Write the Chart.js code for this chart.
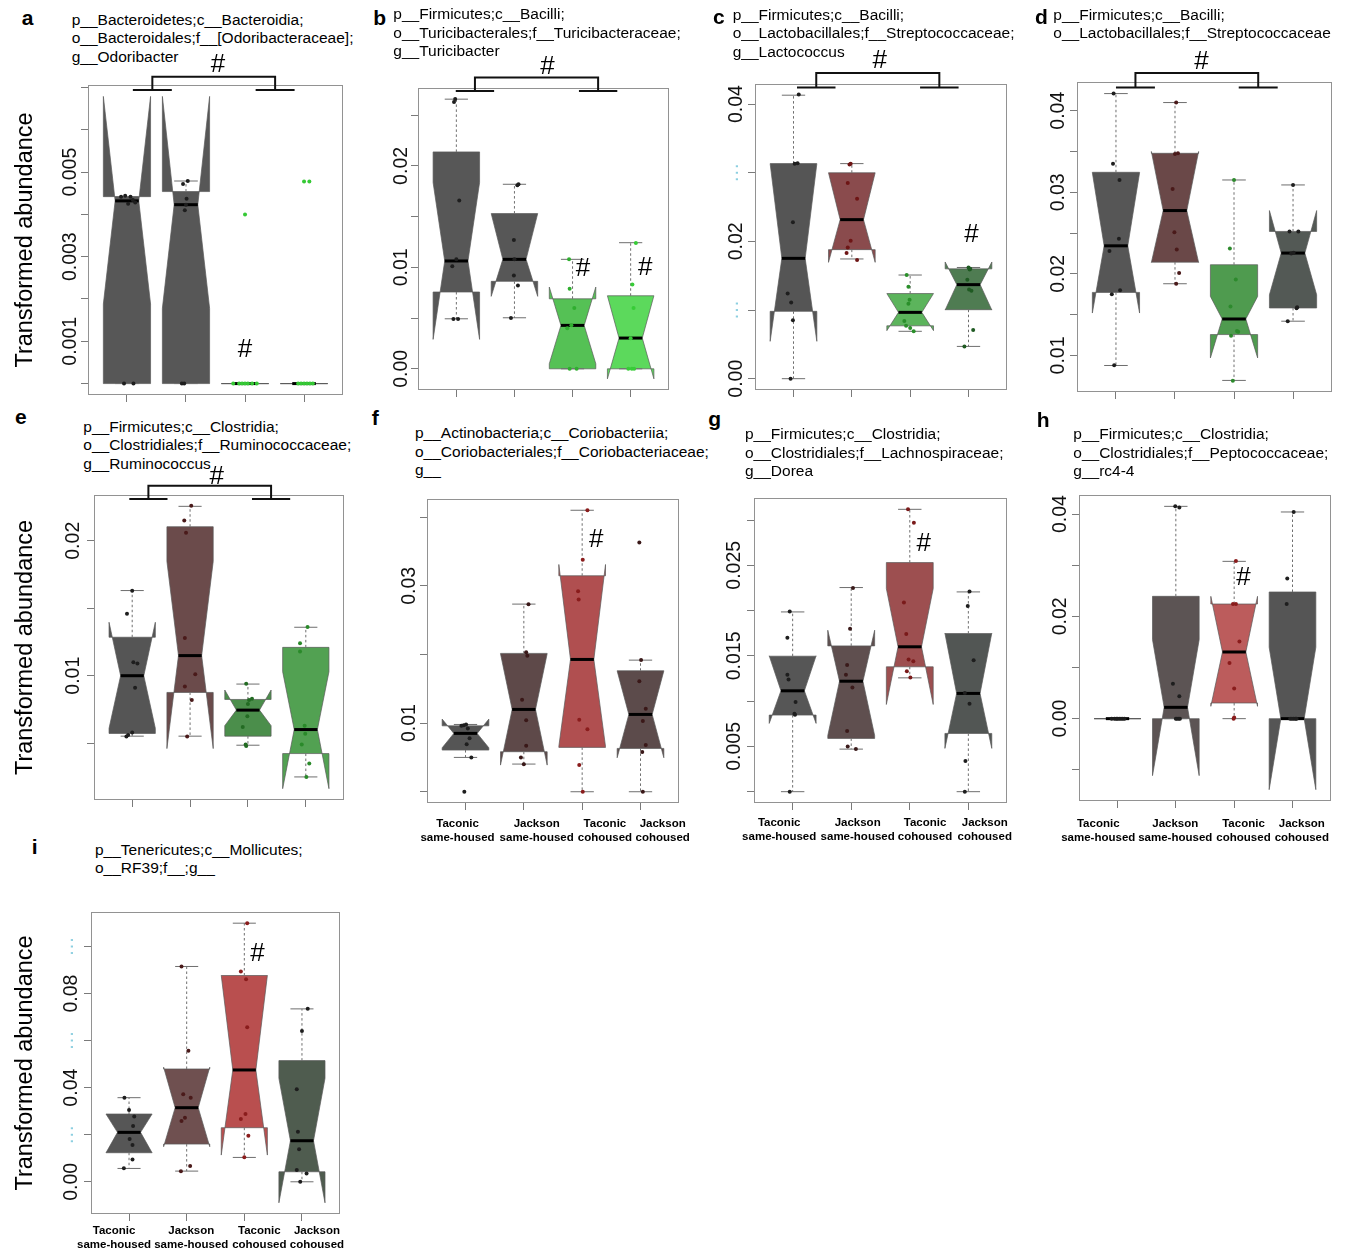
<!DOCTYPE html>
<html>
<head>
<meta charset="utf-8">
<title>Notched boxplots of transformed abundance</title>
<script src="https://cdn.jsdelivr.net/npm/chart.js@4.4.1/dist/chart.umd.min.js"></script>
<style>
  html, body { margin: 0; padding: 0; background: #fff; }
  body { position: relative; width: 1354px; height: 1251px; overflow: hidden;
         font-family: "Liberation Sans", Arial, Helvetica, sans-serif; color: #000; }
  canvas { position: absolute; }
  .tag { position: absolute; font-size: 21px; font-weight: bold; line-height: 21px; }
  .taxon { position: absolute; font-size: 15.5px; line-height: 18.6px; white-space: nowrap; }
</style>
</head>
<body>
<script>
const FONT = '"Liberation Sans", Arial, Helvetica, sans-serif';

const GROUPS = ['Taconic same-housed', 'Jackson same-housed', 'Taconic cohoused', 'Jackson cohoused'];
const GROUP_POS = [1, 2, 3, 4];
const GROUP_LABELS = [['Taconic', 'same-housed'], ['Jackson', 'same-housed'], ['Taconic', 'cohoused'], ['Jackson', 'cohoused']];

// Box statistics per group: [lower whisker, Q1, median, Q3, upper whisker, notch low, notch high]
// Points per group: [horizontal jitter in group units, value]

// ---- a: Odoribacter
const A_TAXON = ['p__Bacteroidetes;c__Bacteroidia;', 'o__Bacteroidales;f__[Odoribacteraceae];', 'g__Odoribacter'];
const A_RANGE = [-0.00027, 0.00706];
const A_TICKS = [0, 0.001, 0.002, 0.003, 0.004, 0.005, 0.006, 0.007];
const A_TICK_LABELS = ['', '0.001', '', '0.003', '', '0.005', '', ''];
const A_STATS = [
  [0, 0, 0.00432, 0.00442, 0.00442, 0.00188, 0.00679],
  [0, 0, 0.00423, 0.00454, 0.00479, 0.00178, 0.00679],
  [0, 0, 0, 0, 0, 0, 0],
  [0, 0, 0, 0, 0, 0, 0]
];
const A_POINTS = [
  [[-0.10, 0.00442], [-0.03, 0.00444], [0.06, 0.00442], [0.10, 0.00434], [0.14, 0.00428], [0.02, 0.00425], [-0.05, 0], [0.11, 0]],
  [[0.03, 0.00479], [-0.05, 0.00472], [0.01, 0.00437], [-0.02, 0.0041], [0.0, 0.00423], [-0.07, 0], [-0.03, 0]],
  [[-0.2, 0], [-0.1, 0], [-0.05, 0], [0.0, 0], [0.05, 0], [0.12, 0], [0.2, 0], [0.0, 0.004]],
  [[-0.1, 0], [-0.05, 0], [0.0, 0], [0.05, 0], [0.1, 0], [0.15, 0], [0.0, 0.00478], [0.09, 0.00478]]
];
const A_HASH = [[3, 0.00079]];
const A_PAIR = [1.43, 3.51];

// ---- b: Turicibacter
const B_TAXON = ['p__Firmicutes;c__Bacilli;', 'o__Turicibacterales;f__Turicibacteraceae;', 'g__Turicibacter'];
const B_RANGE = [-0.00209, 0.02768];
const B_TICKS = [0, 0.005, 0.01, 0.015, 0.02, 0.025];
const B_TICK_LABELS = ['0.00', '', '0.01', '', '0.02', ''];
const B_STATS = [
  [0.00493, 0.00757, 0.01063, 0.02138, 0.02658, 0.0029, 0.01836],
  [0.00503, 0.00862, 0.01079, 0.0153, 0.01819, 0.00714, 0.0153],
  [0, 0, 0.00428, 0.0069, 0.01079, 0.0005, 0.00806],
  [0, 0, 0.00303, 0.0072, 0.01243, -0.00099, 0.0072]
];
const B_POINTS = [
  [[-0.02, 0.0266], [-0.04, 0.0263], [0.05, 0.0166], [0.0, 0.0108], [-0.07, 0.0101], [-0.05, 0.0049], [0.03, 0.0049]],
  [[0.07, 0.0182], [0.05, 0.0181], [-0.01, 0.0127], [0.0, 0.0108], [-0.01, 0.0092], [0.06, 0.0082], [-0.06, 0.005]],
  [[-0.06, 0.0108], [-0.05, 0.0079], [0.03, 0.006], [-0.09, 0.004], [-0.02, 0.0043], [-0.05, 0], [0.07, 0]],
  [[0.09, 0.0124], [0.03, 0.0083], [0.05, 0.006], [0.0, 0.003], [-0.04, 0], [0.02, 0], [0.06, 0]]
];
const B_HASH = [[3.18, 0.0099], [4.25, 0.0100]];
const B_PAIR = [1.32, 3.44];

// ---- c: Lactococcus
const C_TAXON = ['p__Firmicutes;c__Bacilli;', 'o__Lactobacillales;f__Streptococcaceae;', 'g__Lactococcus'];
const C_RANGE = [-0.00165, 0.04293];
const C_TICKS = [0, 0.01, 0.02, 0.03, 0.04];
const C_TICK_LABELS = ['0.00', '\u00b7\u00b7\u00b7', '0.02', '\u00b7\u00b7\u00b7', '0.04'];
const C_STATS = [
  [0, 0.00981, 0.01753, 0.03133, 0.0413, 0.00544, 0.0313],
  [0.01744, 0.0188, 0.02317, 0.0300, 0.03133, 0.01695, 0.0300],
  [0.0069, 0.0077, 0.00966, 0.0124, 0.0151, 0.0070, 0.0124],
  [0.0047, 0.01005, 0.0137, 0.0160, 0.0162, 0.0100, 0.0170]
];
const C_POINTS = [
  [[0.09, 0.0414], [0.02, 0.0313], [0.07, 0.0314], [-0.01, 0.0228], [-0.10, 0.0124], [-0.04, 0.0111], [-0.01, 0.0085], [-0.05, 0]],
  [[-0.02, 0.0313], [-0.04, 0.0312], [-0.07, 0.0285], [0.09, 0.0262], [-0.02, 0.0201], [-0.07, 0.0191], [-0.09, 0.0183], [0.09, 0.0173]],
  [[-0.06, 0.0151], [-0.03, 0.0134], [-0.01, 0.0115], [-0.03, 0.0109], [-0.10, 0.0084], [-0.07, 0.0077], [0.0, 0.0074], [0.06, 0.0069]],
  [[0.0, 0.0162], [0.02, 0.0159], [0.03, 0.0160], [-0.02, 0.0144], [0.05, 0.0128], [0.01, 0.0130], [0.08, 0.0071], [-0.07, 0.0047]]
];
const C_HASH = [[4.05, 0.021]];
const C_PAIR = [1.39, 3.5];

// ---- d: Streptococcaceae
const D_TAXON = ['p__Firmicutes;c__Bacilli;', 'o__Lactobacillales;f__Streptococcaceae'];
const D_RANGE = [0.00552, 0.04352];
const D_TICKS = [0.01, 0.015, 0.02, 0.025, 0.03, 0.035, 0.04];
const D_TICK_LABELS = ['0.01', '', '0.02', '', '0.03', '', '0.04'];
const D_STATS = [
  [0.00877, 0.01773, 0.02344, 0.03245, 0.0421, 0.0152, 0.0324],
  [0.01879, 0.02144, 0.02776, 0.03478, 0.0410, 0.0214, 0.0350],
  [0.00694, 0.01256, 0.01447, 0.02112, 0.03151, 0.0097, 0.01724],
  [0.0142, 0.01582, 0.02255, 0.0252, 0.0309, 0.01744, 0.02776]
];
const D_POINTS = [
  [[-0.04, 0.0421], [-0.05, 0.0335], [0.06, 0.0315], [0.05, 0.0243], [-0.11, 0.0228], [-0.07, 0.0175], [0.07, 0.0180], [-0.03, 0.0088]],
  [[0.02, 0.0410], [0.05, 0.0348], [0.0, 0.0347], [-0.04, 0.0304], [-0.01, 0.0251], [0.03, 0.0230], [0.07, 0.0201], [0.02, 0.0188]],
  [[0.0, 0.0315], [-0.07, 0.0231], [0.03, 0.0193], [-0.06, 0.0160], [0.05, 0.0130], [0.07, 0.0129], [-0.05, 0.0124], [-0.02, 0.0069]],
  [[0.0, 0.0309], [-0.06, 0.0252], [0.09, 0.0252], [-0.03, 0.0225], [0.01, 0.0226], [0.06, 0.0158], [0.07, 0.0159], [-0.09, 0.0142]]
];
const D_HASH = [];
const D_PAIR = [1.33, 3.41];

// ---- e: Ruminococcus
const E_TAXON = ['p__Firmicutes;c__Clostridia;', 'o__Clostridiales;f__Ruminococcaceae;', 'g__Ruminococcus'];
const E_RANGE = [0.00079, 0.02339];
const E_TICKS = [0.005, 0.01, 0.015, 0.02];
const E_TICK_LABELS = ['', '0.01', '', '0.02'];
const E_STATS = [
  [0.00552, 0.00572, 0.0100, 0.01285, 0.01631, 0.0061, 0.01396],
  [0.00552, 0.00876, 0.01149, 0.02104, 0.02255, 0.0046, 0.01847],
  [0.00485, 0.00552, 0.00745, 0.00824, 0.00938, 0.0063, 0.00894],
  [0.0025, 0.00423, 0.00601, 0.0121, 0.01359, 0.00163, 0.0103]
];
const E_POINTS = [
  [[0.0, 0.0163], [-0.09, 0.0146], [0.02, 0.0110], [0.09, 0.0109], [0.05, 0.0091], [0.0, 0.0058], [-0.10, 0.0055], [-0.07, 0.0056]],
  [[0.02, 0.0226], [-0.10, 0.0215], [-0.07, 0.0206], [-0.09, 0.0128], [0.09, 0.0101], [-0.09, 0.0092], [0.03, 0.0082], [-0.05, 0.0055]],
  [[-0.03, 0.0094], [0.07, 0.0083], [0.02, 0.0082], [0.0, 0.0079], [-0.01, 0.0070], [-0.09, 0.0062], [-0.04, 0.0049], [-0.03, 0.0048]],
  [[0.03, 0.0136], [-0.10, 0.0124], [-0.10, 0.0118], [-0.02, 0.0063], [-0.01, 0.0057], [-0.07, 0.0049], [0.06, 0.0035], [0.01, 0.0025]]
];
const E_HASH = [];
const E_PAIR = [1.28, 3.4];

// ---- f: Coriobacteriaceae
const F_TAXON = ['p__Actinobacteria;c__Coriobacteriia;', 'o__Coriobacteriales;f__Coriobacteriaceae;', 'g__'];
const F_RANGE = [-0.00164, 0.04264];
const F_TICKS = [0, 0.01, 0.02, 0.03, 0.04];
const F_TICK_LABELS = ['', '0.01', '', '0.03', ''];
const F_STATS = [
  [0.0050, 0.00607, 0.0085, 0.0096, 0.0098, 0.0064, 0.01058],
  [0.00403, 0.00583, 0.01199, 0.02015, 0.02733, 0.00388, 0.0201],
  [0, 0.00646, 0.01927, 0.03146, 0.0410, 0.0066, 0.0331],
  [0, 0.00631, 0.01126, 0.01762, 0.01917, 0.00495, 0.0176]
];
const F_POINTS = [
  [[-0.03, 0.0097], [0.01, 0.0098], [-0.07, 0.0096], [0.04, 0.0092], [0.07, 0.0078], [0.02, 0.0069], [0.10, 0.0050], [-0.02, 0]],
  [[0.08, 0.0273], [0.04, 0.0203], [0.06, 0.0198], [-0.03, 0.0134], [0.04, 0.0104], [0.04, 0.0067], [-0.05, 0.0050], [0.0, 0.0040]],
  [[0.09, 0.0410], [0.01, 0.0338], [-0.07, 0.0292], [-0.06, 0.0280], [-0.05, 0.0105], [0.09, 0.0091], [-0.05, 0.0039], [0.01, 0]],
  [[-0.02, 0.0363], [0.01, 0.0192], [-0.02, 0.0161], [0.09, 0.0121], [0.04, 0.0103], [0.09, 0.0068], [0.03, 0.0058], [0.04, 0]]
];
const F_HASH = [[3.24, 0.0367]];

// ---- g: Dorea
const G_TAXON = ['p__Firmicutes;c__Clostridia;', 'o__Clostridiales;f__Lachnospiraceae;', 'g__Dorea'];
const G_RANGE = [-0.00125, 0.03243];
const G_TICKS = [0, 0.005, 0.01, 0.015, 0.02, 0.025, 0.03];
const G_TICK_LABELS = ['', '0.005', '', '0.015', '', '0.025', ''];
const G_STATS = [
  [0, 0.00846, 0.01114, 0.01496, 0.01985, 0.00754, 0.0150],
  [0.0047, 0.00588, 0.0122, 0.0161, 0.02254, 0.0062, 0.01783],
  [0.01257, 0.01379, 0.0160, 0.0253, 0.03118, 0.00963, 0.02243],
  [0, 0.00643, 0.01085, 0.01746, 0.02206, 0.00478, 0.0175]
];
const G_POINTS = [
  [[-0.05, 0.0199], [-0.09, 0.0170], [-0.09, 0.0129], [-0.07, 0.0124], [0.05, 0.0099], [0.04, 0.0085], [0.03, 0.0086], [-0.05, 0]],
  [[0.03, 0.0225], [-0.02, 0.0180], [-0.07, 0.0140], [-0.09, 0.0129], [0.02, 0.0115], [-0.07, 0.0067], [-0.06, 0.0050], [0.08, 0.0047]],
  [[-0.03, 0.0312], [0.07, 0.0297], [-0.10, 0.0209], [-0.06, 0.0174], [-0.02, 0.0146], [0.06, 0.0144], [-0.05, 0.0133], [0.01, 0.0126]],
  [[0.02, 0.0221], [-0.01, 0.0205], [0.09, 0.0145], [-0.06, 0.0109], [0.02, 0.0097], [-0.05, 0.0034], [-0.06, 0]]
];
const G_HASH = [[3.24, 0.0274]];

// ---- h: rc4-4
const H_TAXON = ['p__Firmicutes;c__Clostridia;', 'o__Clostridiales;f__Peptococcaceae;', 'g__rc4-4'];
const H_RANGE = [-0.0161, 0.04372];
const H_TICKS = [-0.01, 0, 0.01, 0.02, 0.03, 0.04];
const H_TICK_LABELS = ['', '0.00', '', '0.02', '', '0.04'];
const H_STATS = [
  [0, 0, 0, 0, 0, 0, 0],
  [0, 0, 0.00221, 0.02391, 0.0415, -0.01114, 0.01544],
  [0, 0.00306, 0.01303, 0.02241, 0.03075, 0.00241, 0.02391],
  [0, 0, 0, 0.02476, 0.0404, -0.01388, 0.01394]
];
const H_POINTS = [
  [[-0.10, 0], [-0.05, 0], [-0.02, 0], [0.0, 0], [0.03, 0], [0.06, 0], [0.09, 0], [0.12, 0]],
  [[-0.01, 0.0415], [0.06, 0.0413], [-0.05, 0.0068], [0.06, 0.0044], [0.05, 0], [0.02, 0], [0.0, 0], [0.07, 0]],
  [[0.03, 0.0308], [-0.02, 0.0224], [0.03, 0.0224], [0.09, 0.0151], [-0.08, 0.0109], [0.0, 0.0059], [-0.01, 0], [0.0, 0.0002]],
  [[0.02, 0.0404], [-0.09, 0.0274], [-0.10, 0.0224], [-0.04, 0], [0.02, 0], [0.05, 0], [-0.01, 0], [0.07, 0]]
];
const H_HASH = [[3.16, 0.0275]];

// ---- i: RF39
const I_TAXON = ['p__Tenericutes;c__Mollicutes;', 'o__RF39;f__;g__'];
const I_RANGE = [-0.01369, 0.11465];
const I_TICKS = [0, 0.02, 0.04, 0.06, 0.08, 0.1];
const I_TICK_LABELS = ['0.00', '\u00b7\u00b7\u00b7', '0.04', '\u00b7\u00b7\u00b7', '0.08', '\u00b7\u00b7\u00b7'];
const I_STATS = [
  [0.00567, 0.01234, 0.0210, 0.0288, 0.03574, 0.0123, 0.0288],
  [0.00454, 0.01603, 0.03149, 0.04794, 0.0915, 0.0149, 0.0487],
  [0.01035, 0.02298, 0.04752, 0.08766, 0.1099, 0.01135, 0.0877],
  [0, 0.00426, 0.01745, 0.05149, 0.07348, -0.00894, 0.04397]
];
const I_POINTS = [
  [[-0.08, 0.0357], [0.0, 0.0305], [0.09, 0.0277], [0.07, 0.0237], [0.01, 0.0182], [0.06, 0.0156], [0.06, 0.0095], [-0.09, 0.0057]],
  [[-0.09, 0.0915], [0.03, 0.0557], [-0.06, 0.0372], [0.07, 0.0357], [-0.03, 0.0272], [-0.09, 0.0258], [0.06, 0.0067], [-0.10, 0.0045]],
  [[0.05, 0.1099], [-0.06, 0.0894], [0.03, 0.0861], [0.05, 0.0657], [0.02, 0.0288], [-0.06, 0.0267], [0.07, 0.0196], [0.0, 0.0104]],
  [[0.10, 0.0735], [0.0, 0.0641], [-0.09, 0.0393], [-0.07, 0.0213], [-0.05, 0.0138], [-0.09, 0.0050], [0.08, 0.0035], [-0.03, 0]]
];
const I_HASH = [[3.23, 0.0969]];

// ---- panel placement and styling
const PANELS = [
  { tag: 'a', taxon: A_TAXON, range: A_RANGE, ticks: A_TICKS, tickLabels: A_TICK_LABELS, stats: A_STATS, points: A_POINTS, hash: A_HASH, pair: A_PAIR,
    frame: [88, 85, 343, 395], axw: 88, yTitle: true, gap: 17, taxonAt: [71.7, 20], tagAt: [21.7, 24.5],
    bracket: [-8.3, 5], hashTop: [2.54, -20],
    fill: ['#575757', '#575757', '#4aa84a', '#4aa84a'], dots: ['#1e1e1e', '#1e1e1e', '#35c935', '#35c935'] },
  { tag: 'b', taxon: B_TAXON, range: B_RANGE, ticks: B_TICKS, tickLabels: B_TICK_LABELS, stats: B_STATS, points: B_POINTS, hash: B_HASH, pair: B_PAIR,
    frame: [418, 88, 669, 390], axw: 46, gap: 16.7, taxonAt: [393.3, 14.5], tagAt: [373.3, 25],
    bracket: [-10.5, 2.9], hashTop: [2.57, -21],
    fill: ['#575757', '#575757', '#55c155', '#5cd95c'], dots: ['#1e1e1e', '#1e1e1e', '#2fae2f', '#37cc37'] },
  { tag: 'c', taxon: C_TAXON, range: C_RANGE, ticks: C_TICKS, tickLabels: C_TICK_LABELS, stats: C_STATS, points: C_POINTS, hash: C_HASH, pair: C_PAIR,
    frame: [755, 84, 1007, 390], axw: 46, gap: 18, taxonAt: [732.7, 15], tagAt: [713, 24],
    bracket: [-11, 3.6], hashTop: [2.48, -22.7],
    fill: ['#555555', '#8a4b4d', '#5cb45c', '#4f7c52'], dots: ['#1e1e1e', '#6e1515', '#2a8f2a', '#1f5a22'] },
  { tag: 'd', taxon: D_TAXON, range: D_RANGE, ticks: D_TICKS, tickLabels: D_TICK_LABELS, stats: D_STATS, points: D_POINTS, hash: D_HASH, pair: D_PAIR,
    frame: [1077, 82, 1332, 392], axw: 46, gap: 18.3, taxonAt: [1053.3, 15], tagAt: [1035, 23.3],
    bracket: [-9.1, 5.5], hashTop: [2.45, -20],
    fill: ['#565656', '#6a4848', '#4f9b4f', '#535955'], dots: ['#1e1e1e', '#4a1a1a', '#2d8a2d', '#1e1e1e'] },
  { tag: 'e', taxon: E_TAXON, range: E_RANGE, ticks: E_TICKS, tickLabels: E_TICK_LABELS, stats: E_STATS, points: E_POINTS, hash: E_HASH, pair: E_PAIR,
    frame: [94, 495, 344, 800], axw: 94, yTitle: true, gap: 20.5, taxonAt: [83.3, 426.7], tagAt: [15, 423.3],
    bracket: [-9.3, 4], hashTop: [2.46, -18.6],
    fill: ['#555555', '#6b4b4b', '#4b8e4b', '#52a152'], dots: ['#1e1e1e', '#4a1a1a', '#236b23', '#2a8a2a'] },
  { tag: 'f', taxon: F_TAXON, range: F_RANGE, ticks: F_TICKS, tickLabels: F_TICK_LABELS, stats: F_STATS, points: F_POINTS, hash: F_HASH,
    frame: [427, 499, 679, 803], axw: 46, gap: 17.5, taxonAt: [415, 433.3], tagAt: [371.7, 424.3],
    labelAt: [0.863, 2.22, 3.39, 4.38], labelPad: 7.4,
    fill: ['#555555', '#5e4949', '#b04f50', '#5c4b4b'], dots: ['#1e1e1e', '#3a1818', '#8a1c1c', '#3a1818'] },
  { tag: 'g', taxon: G_TAXON, range: G_RANGE, ticks: G_TICKS, tickLabels: G_TICK_LABELS, stats: G_STATS, points: G_POINTS, hash: G_HASH,
    frame: [754, 498, 1007, 803], axw: 46, gap: 19, taxonAt: [745, 434.3], tagAt: [708.3, 426],
    labelAt: [0.77, 2.11, 3.26, 4.28], labelPad: 5.8,
    fill: ['#565656', '#5f4f4f', '#9d4f50', '#525654'], dots: ['#1e1e1e', '#3a1a1a', '#7a1a1a', '#1e1e1e'] },
  { tag: 'h', taxon: H_TAXON, range: H_RANGE, ticks: H_TICKS, tickLabels: H_TICK_LABELS, stats: H_STATS, points: H_POINTS, hash: H_HASH,
    frame: [1079, 495, 1331, 801], axw: 46, gap: 18.8, taxonAt: [1073.3, 434.3], tagAt: [1036.7, 426.7],
    labelAt: [0.67, 1.99, 3.16, 4.16], labelPad: 9.1,
    fill: ['#555555', '#5c5454', '#bc5c5c', '#555555'], dots: ['#1e1e1e', '#1e1e1e', '#8a1c1c', '#1e1e1e'] },
  { tag: 'i', taxon: I_TAXON, range: I_RANGE, ticks: I_TICKS, tickLabels: I_TICK_LABELS, stats: I_STATS, points: I_POINTS, hash: I_HASH,
    frame: [91, 912, 340, 1214], axw: 91, yTitle: true, gap: 19.3, taxonAt: [95, 850], tagAt: [31.7, 853.3],
    labelAt: [0.74, 2.08, 3.26, 4.26], labelPad: 2.8,
    fill: ['#565656', '#6f5050', '#b94f4f', '#4f5c4f'], dots: ['#1e1e1e', '#4a1a1a', '#8a1c1c', '#1e1e1e'] }
];

const X_RANGE = [0.34, 4.66];
const DOTS_LABEL = '\u00b7\u00b7\u00b7';
const TICK_SIZE = 19.5;
const TITLE_SIZE = 23.5;

Chart.defaults.font.family = FONT;

const measureCtx = document.createElement('canvas').getContext('2d');
function textWidth(txt, font) { measureCtx.font = font; return measureCtx.measureText(txt).width; }

// Notched boxes (R style), whiskers, staples, medians, frame, '#' markers and brackets
function notchedBoxPlugin(p) {
  return {
    id: 'notched-' + p.tag,
    beforeDatasetsDraw(chart) {
      const { ctx, chartArea: ca } = chart;
      const xs = chart.scales.x, ys = chart.scales.y;
      ctx.save();
      p.stats.forEach((s, g) => {
        const cx = xs.getPixelForValue(GROUP_POS[g]);
        const hw = xs.getPixelForValue(GROUP_POS[g] + 0.4) - cx;
        const sw = hw / 2;
        const [lo, q1, md, q3, hi, nl, nh] = s.map(v => ys.getPixelForValue(v));
        ctx.beginPath();
        ctx.moveTo(cx - hw, q1);
        ctx.lineTo(cx + hw, q1);
        ctx.lineTo(cx + hw, nl);
        ctx.lineTo(cx + hw / 2, md);
        ctx.lineTo(cx + hw, nh);
        ctx.lineTo(cx + hw, q3);
        ctx.lineTo(cx - hw, q3);
        ctx.lineTo(cx - hw, nh);
        ctx.lineTo(cx - hw / 2, md);
        ctx.lineTo(cx - hw, nl);
        ctx.closePath();
        ctx.fillStyle = p.fill[g];
        ctx.fill();
        ctx.lineWidth = 1;
        ctx.strokeStyle = 'rgba(90,90,90,0.7)';
        ctx.stroke();
        // whiskers (dashed) and staples
        ctx.strokeStyle = '#6e6e6e';
        ctx.setLineDash([2.5, 2.5]);
        ctx.beginPath();
        ctx.moveTo(cx, q1); ctx.lineTo(cx, lo);
        ctx.moveTo(cx, q3); ctx.lineTo(cx, hi);
        ctx.stroke();
        ctx.setLineDash([]);
        ctx.beginPath();
        ctx.moveTo(cx - sw, lo); ctx.lineTo(cx + sw, lo);
        ctx.moveTo(cx - sw, hi); ctx.lineTo(cx + sw, hi);
        ctx.stroke();
        // median
        ctx.strokeStyle = '#000';
        ctx.lineWidth = 3;
        ctx.beginPath();
        ctx.moveTo(cx - hw / 2, md); ctx.lineTo(cx + hw / 2, md);
        ctx.stroke();
      });
      ctx.strokeStyle = '#929292';
      ctx.lineWidth = 1;
      ctx.strokeRect(ca.left + 0.5, ca.top + 0.5, ca.width - 1, ca.height - 1);
      ctx.restore();
    },
    afterDatasetsDraw(chart) {
      const { ctx, chartArea: ca } = chart;
      const xs = chart.scales.x, ys = chart.scales.y;
      ctx.save();
      ctx.fillStyle = '#000';
      ctx.font = '26px ' + FONT;
      ctx.textAlign = 'center';
      ctx.textBaseline = 'middle';
      p.hash.forEach(([gx, v]) => ctx.fillText('#', xs.getPixelForValue(gx), ys.getPixelForValue(v)));
      if (p.pair) {
        const [ga, gb] = p.pair;
        const X = v => xs.getPixelForValue(v);
        const yTop = ca.top + p.bracket[0], yBar = ca.top + p.bracket[1];
        ctx.strokeStyle = '#111';
        ctx.lineWidth = 2;
        ctx.beginPath();
        ctx.moveTo(X(ga - 0.33), yBar); ctx.lineTo(X(ga + 0.33), yBar);
        ctx.moveTo(X(gb - 0.33), yBar); ctx.lineTo(X(gb + 0.33), yBar);
        ctx.moveTo(X(ga), yBar); ctx.lineTo(X(ga), yTop); ctx.lineTo(X(gb), yTop); ctx.lineTo(X(gb), yBar);
        ctx.stroke();
        ctx.fillText('#', X(p.hashTop[0]), ca.top + p.hashTop[1]);
      }
      ctx.restore();
    }
  };
}

PANELS.forEach(p => {
  const [l, t, r, b] = p.frame;
  const TOP = 40, RIGHT = 34, XTICK = 7;
  const labH = p.labelAt ? 46 : 0;
  const W = p.axw + (r - l) + RIGHT;
  const H = TOP + (b - t) + XTICK + labH;

  // panel letter and taxonomy caption
  const tag = document.createElement('div');
  tag.className = 'tag';
  tag.textContent = p.tag;
  tag.style.left = p.tagAt[0] + 'px';
  tag.style.top = (p.tagAt[1] - 17.8) + 'px';
  document.body.appendChild(tag);
  const cap = document.createElement('div');
  cap.className = 'taxon';
  cap.innerHTML = p.taxon.map(s => s.replace(/&/g, '&amp;').replace(/</g, '&lt;')).join('<br>');
  cap.style.left = p.taxonAt[0] + 'px';
  cap.style.top = (p.taxonAt[1] - 9.2) + 'px';
  document.body.appendChild(cap);

  const cv = document.createElement('canvas');
  cv.width = W; cv.height = H;
  cv.style.width = W + 'px'; cv.style.height = H + 'px';
  cv.style.left = (l - p.axw) + 'px';
  cv.style.top = (t - TOP) + 'px';
  document.body.appendChild(cv);

  const tickFont = { family: FONT, size: TICK_SIZE };
  const widest = Math.max(...p.tickLabels.map(s => textWidth(s, TICK_SIZE + 'px ' + FONT)));
  const yPad = (p.gap - XTICK) - widest / 2;

  const pts = [], cols = [];
  p.points.forEach((grp, g) => grp.forEach(([dx, v]) => {
    pts.push({ x: GROUP_POS[g] + dx, y: v });
    cols.push(p.dots[g]);
  }));

  const scales = {
    x: {
      type: 'linear', position: 'bottom', weight: 0, bounds: 'data',
      min: X_RANGE[0], max: X_RANGE[1],
      afterBuildTicks: s => { s.ticks = GROUP_POS.map(v => ({ value: v })); },
      afterFit: s => { s.height = XTICK; s.paddingLeft = 0; s.paddingRight = 0; },
      grid: { drawOnChartArea: false, drawTicks: true, tickLength: XTICK, color: '#7a7a7a', lineWidth: 1 },
      border: { display: false },
      ticks: { display: false }
    },
    y: {
      type: 'linear', position: 'left', bounds: 'data',
      min: p.range[0], max: p.range[1],
      afterBuildTicks: s => { s.ticks = p.ticks.map(v => ({ value: v })); },
      afterFit: s => { s.width = p.axw; s.paddingTop = 0; s.paddingBottom = 0; },
      grid: { drawOnChartArea: false, drawTicks: true, tickLength: XTICK, color: '#7a7a7a', lineWidth: 1 },
      border: { display: false },
      ticks: {
        autoSkip: false, minRotation: 90, maxRotation: 90, crossAlign: 'center', padding: yPad,
        font: tickFont,
        color: c => (p.tickLabels[c.index] === DOTS_LABEL ? '#8ccfe0' : '#111'),
        callback: (v, i) => p.tickLabels[i]
      },
      title: {
        display: !!p.yTitle, text: 'Transformed abundance', color: '#000',
        font: { family: FONT, size: TITLE_SIZE }, padding: { top: 11, bottom: 0 }
      }
    }
  };
  if (p.labelAt) {
    scales.xl = {
      type: 'linear', position: 'bottom', weight: 1, bounds: 'data',
      min: X_RANGE[0], max: X_RANGE[1],
      afterBuildTicks: s => { s.ticks = p.labelAt.map(v => ({ value: v })); },
      afterFit: s => { s.height = labH; s.paddingLeft = 0; s.paddingRight = 0; },
      grid: { display: false, drawTicks: false },
      border: { display: false },
      ticks: {
        autoSkip: false, minRotation: 0, maxRotation: 0, padding: p.labelPad,
        font: { family: FONT, size: 11.5, weight: 'bold', lineHeight: 1.2 }, color: '#000',
        callback: (v, i) => GROUP_LABELS[i]
      }
    };
  }

  new Chart(cv, {
    type: 'scatter',
    data: {
      datasets: [{
        label: 'Samples',
        data: pts,
        pointRadius: 2,
        pointHoverRadius: 2,
        pointBackgroundColor: cols,
        pointBorderColor: cols,
        pointBorderWidth: 0
      }]
    },
    options: {
      responsive: false,
      animation: false,
      events: [],
      layout: { padding: { left: 0, top: TOP, right: RIGHT, bottom: 0 } },
      plugins: { legend: { display: false }, tooltip: { enabled: false }, title: { display: false } },
      scales
    },
    plugins: [notchedBoxPlugin(p)]
  });
});
</script>
</body>
</html>
